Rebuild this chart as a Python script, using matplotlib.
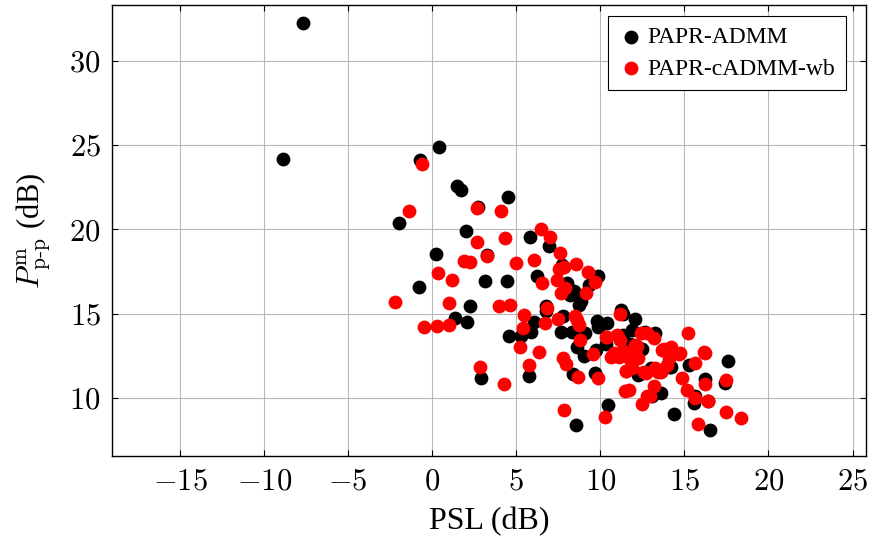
import numpy as np
import matplotlib
matplotlib.use('Agg')
import matplotlib.pyplot as plt
from matplotlib.ticker import FuncFormatter

plt.rcParams['mathtext.fontset'] = 'cm'
plt.rcParams['font.family'] = ['Liberation Serif', 'DejaVu Serif']

# PAPR-ADMM (PSL dB, P_pp dB)
admm_x = [-7.7, -8.9, 0.4, -0.74, 1.48, 1.7, 4.5, 2.72, -2.0, 2.02, 5.81, 6.92,
          0.2, 3.25, 6.25, 3.12, 4.45, -0.78, 2.25, 6.78, 6.77, 1.33, 2.07, 6.05,
          4.56, 5.27, 5.9, 5.73, 2.9, 8.53, 10.45, 14.4, 16.55, 17.6, 17.42, 16.2,
          15.55, 13.62, 13.05, 15.3, 14.1, 12.26, 9.69, 8.37, 9.03, 8.6, 9.75,
          10.35, 9.07, 7.64, 8.3, 9.85, 10.42, 9.82, 11.22, 11.33, 12.06, 11.9,
          11.33, 12.65, 13.22, 11.76, 12.45, 11.52, 7.8, 8.7, 8.86, 8.2, 8.43,
          9.33, 9.85, 7.72, 8.02, 15.6, 16.4, 12.5, 13.0, 14.2, 10.0, 12.0]
admm_y = [32.25, 24.15, 24.86, 24.09, 22.57, 22.33, 21.92, 21.3, 20.35, 19.9, 19.55, 18.98,
          18.52, 18.48, 17.22, 16.93, 16.93, 16.57, 15.45, 15.47, 15.12, 14.74, 14.47, 14.5,
          13.64, 13.68, 13.88, 11.3, 11.2, 8.41, 9.6, 9.02, 8.1, 12.18, 10.87, 11.1,
          9.72, 10.3, 10.08, 11.94, 11.8, 11.36, 11.48, 11.43, 12.46, 12.99, 12.82,
          13.2, 13.83, 13.93, 13.93, 14.22, 14.42, 14.54, 15.23, 14.96, 14.69, 14.04,
          13.72, 13.93, 13.86, 13.2, 12.9, 12.7, 14.88, 15.5, 15.72, 16.08, 16.33,
          16.71, 17.2, 17.9, 16.8, 10.12, 9.8, 11.5, 11.75, 11.85, 14.3, 13.0]

# PAPR-cADMM-wb
cadmm_x = [-0.58, 2.68, 4.07, -1.39, 6.49, 7.02, 2.64, 4.33, 1.87, 2.22, 3.28, 5.0,
           6.05, 0.36, 1.15, 6.55, -2.2, 1.01, 3.99, 4.64, 6.85, -0.48, 0.28, 0.99,
           5.45, 5.38, 5.2, 6.37, 5.78, 2.82, 4.25, 7.58, 7.55, 7.82, 8.55, 9.26,
           9.68, 7.44, 7.92, 7.68, 9.12, 8.48, 8.62, 8.72, 7.48, 6.7, 8.8, 10.32,
           10.97, 11.17, 12.42, 12.8, 13.17, 7.8, 7.95, 8.68, 9.56, 9.86, 10.66,
           11.19, 10.79, 11.09, 11.36, 11.69, 12.08, 12.1, 11.98, 11.5, 11.86, 12.58,
           11.45, 11.7, 10.26, 7.85, 12.5, 12.8, 15.2, 13.67, 14.2, 14.76, 14.08,
           13.97, 13.27, 13.4, 13.68, 16.18, 15.62, 17.46, 16.2, 14.88, 15.18, 15.6,
           16.42, 17.46, 18.35, 15.8, 13.18, 12.98, 13.6, 14.7, 16.2, 10.42, 12.26,
           12.72, 11.5, 13.8, 12.16]
cadmm_y = [23.89, 21.23, 21.06, 21.1, 20.01, 19.54, 19.24, 19.48, 18.13, 18.05, 18.4, 17.98,
           18.15, 17.4, 17.0, 16.82, 15.66, 15.64, 15.42, 15.52, 15.32, 14.22, 14.27, 14.29,
           14.9, 14.13, 12.99, 12.69, 11.96, 11.84, 10.83, 18.59, 17.66, 17.76, 17.95, 17.47,
           16.85, 16.98, 16.51, 16.2, 16.23, 14.83, 14.63, 14.3, 14.66, 14.45, 13.42, 13.62,
           13.74, 14.96, 13.84, 13.84, 13.54, 12.36, 11.98, 11.24, 12.62, 11.15, 12.45,
           13.44, 12.65, 12.42, 12.75, 12.36, 13.13, 12.55, 12.78, 11.62, 11.76, 11.55,
           10.4, 10.45, 8.89, 9.3, 9.62, 10.12, 13.84, 12.85, 13.04, 12.66, 12.36,
           11.96, 11.76, 11.54, 11.66, 12.7, 12.08, 11.06, 10.83, 11.2, 10.45, 10.0,
           9.83, 9.18, 8.78, 8.46, 10.72, 10.1, 11.55, 12.62, 12.68, 13.62, 12.38,
           11.45, 11.58, 12.88, 13.1]

fig = plt.figure(figsize=(8.7, 5.44), dpi=100)
ax = fig.add_axes([0.1287, 0.1618, 0.8667, 0.829])

ax.scatter(admm_x, admm_y, s=80, color='black', zorder=2, label='PAPR-ADMM')
ax.scatter(cadmm_x, cadmm_y, s=80, color='#ff0000', zorder=3, label='PAPR-cADMM-wb')

ax.set_xlim(-19.05, 25.8)
ax.set_ylim(6.55, 33.3)
ax.set_xticks(np.arange(-15, 26, 5))
ax.set_yticks(np.arange(10, 31, 5))
ax.xaxis.set_major_formatter(FuncFormatter(lambda v, p: r'$%d$' % v))
ax.yaxis.set_major_formatter(FuncFormatter(lambda v, p: r'$%d$' % v))
ax.tick_params(labelsize=22, direction='in', length=4, top=True, right=True, pad=8)
ax.grid(color='#b8b8b8', linewidth=0.8, zorder=0)
ax.set_axisbelow(True)
for sp in ax.spines.values():
    sp.set_linewidth(1.0)

ax.set_xlabel('PSL (dB)', fontsize=23, labelpad=8)
ax.set_ylabel(r'$P^{\mathrm{m}}_{\mathrm{p}\text{-}\mathrm{p}}$ (dB)', fontsize=22, labelpad=12)

leg = ax.legend(loc='upper right', bbox_to_anchor=(0.9735, 0.9756), borderaxespad=0,
                fontsize=17, frameon=True, fancybox=False, edgecolor='black',
                framealpha=1, handletextpad=0.15, borderpad=0.45, labelspacing=0.42,
                handlelength=1.1, scatterpoints=1)
leg.get_frame().set_linewidth(0.8)

plt.savefig('out.png', dpi=100)
